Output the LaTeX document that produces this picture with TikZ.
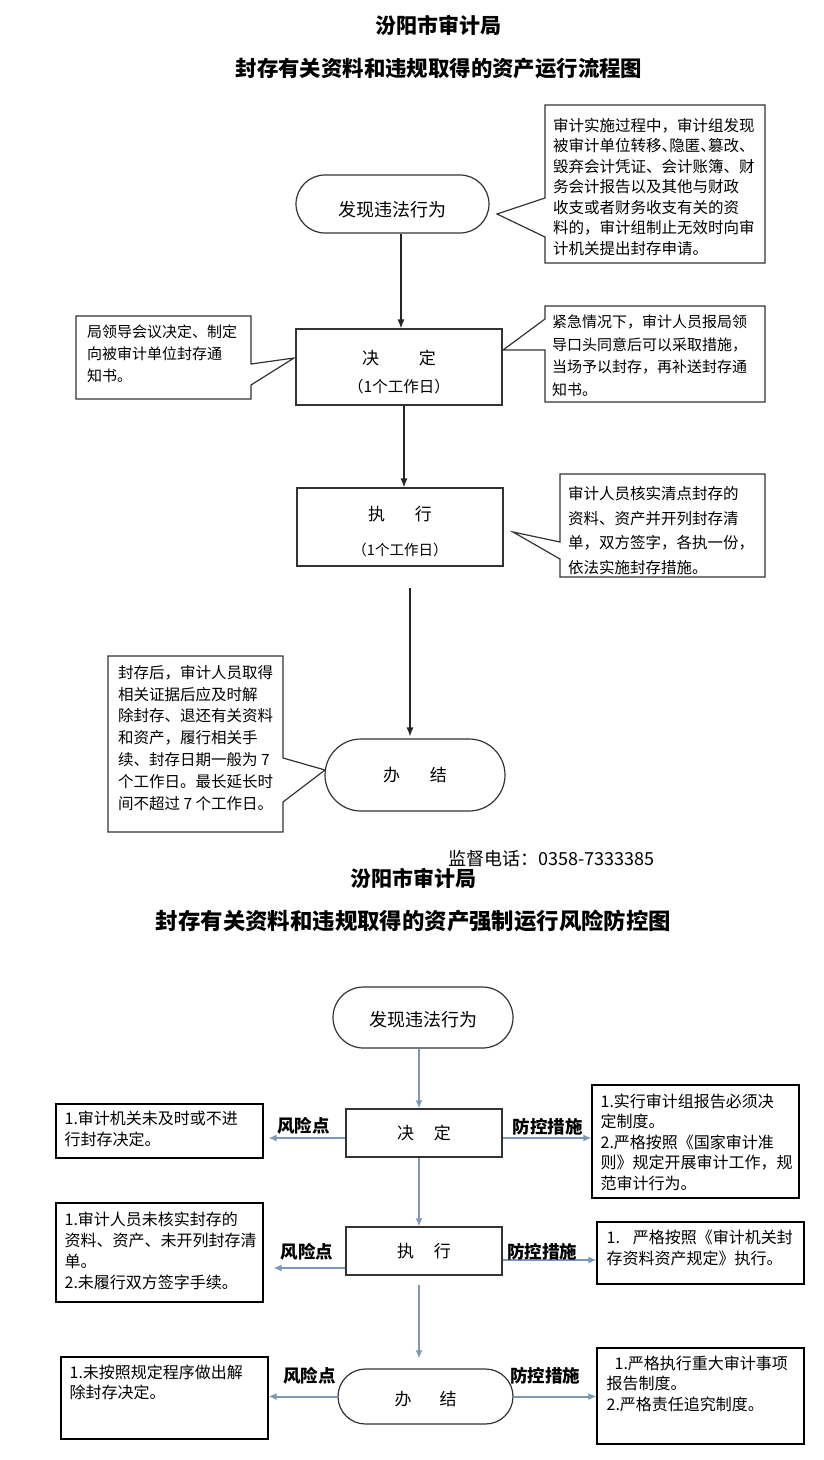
\documentclass[tikz,border=0pt]{standalone}
\usepackage{fontspec}
\setmainfont{Noto Sans CJK SC}
\usetikzlibrary{shapes.misc,arrows.meta,calc}
\definecolor{arrowblue}{RGB}{124,152,185}
\definecolor{edge}{RGB}{51,51,51}
\newcommand\hw[1]{\makebox[0.5em][l]{#1}}
\tikzset{
  pagetitle/.style={font=\bfseries\fontsize{21}{25}\selectfont, inner sep=0},
  term/.style={draw=edge, line width=1.2pt, rounded rectangle, inner sep=0, font=\fontsize{18}{22}\selectfont},
  stepbox/.style={draw=edge, line width=1.2pt, rectangle, inner sep=0, align=center},
  calloutline/.style={draw=edge, line width=1.2pt, fill=white},
  ctext/.style={anchor=north west, inner sep=0, align=left},
  arr/.style={draw=black!85, line width=1.2pt, -{Latex[length=9pt,width=7pt]}},
  barr/.style={draw=arrowblue, line width=2pt, -{Latex[length=8pt,width=7pt]}},
  riskbox/.style={draw=black, line width=1.1pt, rectangle, inner sep=0},
  tag/.style={font=\bfseries\fontsize{17.5}{20}\selectfont, inner sep=0},
}
\begin{document}
\begin{tikzpicture}[x=1pt,y=-1pt]
\fill[white] (0,0) rectangle (823,1460);
\useasboundingbox (0,0) rectangle (823,1460);

% ---------- titles (upper chart)
\node[pagetitle] (t1) at (438.5,25) {汾阳市审计局};
\node[pagetitle, font=\bfseries\fontsize{21.4}{25}\selectfont] (t2) at (439,68) {封存有关资料和违规取得的资产运行流程图};

% ---------- upper flow
\node[term, minimum width=193pt, minimum height=58pt] (s1) at (392.5,204) {\rule{0pt}{27pt}发现违法行为};
\node[stepbox, minimum width=206pt, minimum height=76pt, font=\fontsize{17}{28.5}\selectfont] (d1) at (399,367)
  {\rule{0pt}{24pt}决\hspace{40pt}定\\{\fontsize{15.5}{28.5}\selectfont（1个工作日）}};
\node[stepbox, minimum width=206pt, minimum height=78pt, font=\fontsize{17}{35}\selectfont] (e1) at (400,527)
  {\rule{0pt}{24pt}执\hspace{30pt}行\\{\fontsize{14.5}{35}\selectfont（1个工作日）}};
\node[term, minimum width=180pt, minimum height=72pt, font=\fontsize{17}{20}\selectfont] (b1) at (415,775)
  {办\hspace{30pt}结\hspace{28pt}};

\coordinate (xa) at (401,0);
\coordinate (xb) at (404,0);
\coordinate (xc) at (410,0);
\draw[arr] (s1.south -| xa) -- (d1.north -| xa);
\draw[arr] (d1.south -| xb) -- (e1.north -| xb);
\draw[arr, shorten <=21pt, shorten >=2pt] (e1.south -| xc) -- (b1.north -| xc);

% callouts
\draw[calloutline] (545,105) -- (765,105) -- (765,263) -- (545,263) -- (545,237) -- (497,214) -- (545,198) -- cycle;
\node[ctext, font=\fontsize{15.5}{20.5}\selectfont] (c1) at (553,118)
  {审计实施过程中，审计组发现\\被审计单位转移\hw{、}隐匿\hw{、}篡改\hw{、}\\毁弃会计凭证、会计账簿、财\\务会计报告以及其他与财政\\收支或者财务收支有关的资\\料的，审计组制止无效时向审\\计机关提出封存申请。};

\draw[calloutline] (76,316) -- (251,316) -- (251,364) -- (294,358) -- (251,385) -- (251,399) -- (76,399) -- cycle;
\node[ctext, font=\fontsize{15}{22}\selectfont] (c2) at (87,324.7)
  {局领导会议决定、制定\\向被审计单位封存通\\知书。};

\draw[calloutline] (545,306) -- (765,306) -- (765,402) -- (545,402) -- (545,350) -- (503,350) -- (545,319) -- cycle;
\node[ctext, font=\fontsize{15}{22.6}\selectfont] (c3) at (552,314.8)
  {紧急情况下，审计人员报局领\\导口头同意后可以采取措施，\\当场予以封存，再补送封存通\\知书。};

\draw[calloutline] (560,474) -- (765,474) -- (765,577) -- (560,577) -- (560,559) -- (513,532) -- (560,542) -- cycle;
\node[ctext, font=\fontsize{15.5}{24.7}\selectfont] (c4) at (568,486)
  {审计人员核实清点封存的\\资料、资产并开列封存清\\单，双方签字，各执一份，\\依法实施封存措施。};

\draw[calloutline] (108,656) -- (283,656) -- (283,758) -- (325,770) -- (283,802) -- (283,832) -- (108,832) -- cycle;
\node[ctext, font=\fontsize{15.5}{21.8}\selectfont] (c5) at (118,665)
  {封存后，审计人员取得\\相关证据后应及时解\\除封存、退还有关资料\\和资产，履行相关手\\续、封存日期一般为 7\\个工作日。最长延长时\\间不超过 7 个工作日。};

% ---------- phone & titles (lower chart)
\node[inner sep=0, anchor=west, font=\fontsize{18}{20}\selectfont] (ph) at (448,859) {监督电话：0358-7333385};
\node[pagetitle] (t3) at (413.5,878) {汾阳市审计局};
\node[pagetitle, font=\bfseries\fontsize{22.4}{26}\selectfont] (t4) at (413.5,921) {封存有关资料和违规取得的资产强制运行风险防控图};

% ---------- lower flow
\node[term, minimum width=180pt, minimum height=61pt] (s2) at (423,1017.5) {\rule{0pt}{20pt}发现违法行为};
\node[stepbox, minimum width=156pt, minimum height=48pt, font=\fontsize{17}{20}\selectfont] (d2) at (424,1133) {决\hspace{20pt}定};
\node[stepbox, minimum width=156pt, minimum height=48pt, font=\fontsize{17}{20}\selectfont] (e2) at (424,1251) {执\hspace{20pt}行};
\node[term, minimum width=175pt, minimum height=55pt, font=\fontsize{17}{20}\selectfont] (b2) at (425.5,1396.5) {\rule{0pt}{20pt}办\hspace{28pt}结};

\coordinate (xd) at (419,0);
\draw[barr] (s2.south -| xd) -- (d2.north -| xd);
\draw[barr] (d2.south -| xd) -- (e2.north -| xd);
\draw[barr, shorten <=9pt, shorten >=10pt] (e2.south -| xd) -- (b2.north -| xd);

% risk boxes (left)
\node[riskbox, minimum width=207pt, minimum height=54pt] (r1) at (159.5,1131) {};
\node[ctext, font=\fontsize{16}{21}\selectfont] (r1t) at ([xshift=9pt,yshift=-7pt]r1.north west)
  {1.审计机关未及时或不进\\行封存决定。};
\node[riskbox, minimum width=207pt, minimum height=99pt] (r2) at (159.5,1252.5) {};
\node[ctext, font=\fontsize{16}{21}\selectfont] (r2t) at ([xshift=9pt,yshift=-9pt]r2.north west)
  {1.审计人员未核实封存的\\资料、资产、未开列封存清\\单。\\2.未履行双方签字手续。};
\node[riskbox, minimum width=207pt, minimum height=82pt] (r3) at (164.5,1398) {};
\node[ctext, font=\fontsize{16}{20.5}\selectfont] (r3t) at ([xshift=9pt,yshift=-8pt]r3.north west)
  {1.未按照规定程序做出解\\除封存决定。};

% measure boxes (right)
\node[riskbox, minimum width=207pt, minimum height=113pt] (m1) at (695.5,1141.5) {};
\node[ctext, font=\fontsize{16}{20.5}\selectfont] (m1t) at ([xshift=9pt,yshift=-9pt]m1.north west)
  {1.实行审计组报告必须决\\定制度。\\2.严格按照《国家审计准\\则》规定开展审计工作，规\\范审计行为。};
\node[riskbox, minimum width=207pt, minimum height=62pt] (m2) at (700.5,1253) {};
\node[ctext, font=\fontsize{16}{21}\selectfont] (m2t) at ([xshift=10pt,yshift=-8pt]m2.north west)
  {1.\hspace{0.8em}严格按照《审计机关封\\存资料资产规定》执行。};
\node[riskbox, minimum width=207pt, minimum height=96pt] (m3) at (700.5,1396) {};
\node[ctext, font=\fontsize{16}{20.5}\selectfont] (m3t) at ([xshift=10pt,yshift=-8pt]m3.north west)
  {\hspace*{0.5em}1.严格执行重大审计事项\\报告制度。\\2.严格责任追究制度。};

% horizontal arrows
\coordinate (a1) at ([yshift=-5pt]d2.west);
\draw[barr, shorten >=5pt] (a1) -- (r1.east |- a1);
\coordinate (a2) at ([yshift=-5pt]d2.east);
\draw[barr] (a2) -- (m1.west |- a2);
\coordinate (a3) at ([yshift=-17pt]e2.west);
\draw[barr, shorten >=10pt] (a3) -- (r2.east |- a3);
\coordinate (a4) at ([yshift=-9pt]e2.east);
\draw[barr] (a4) -- (m2.west |- a4);
\draw[barr] (b2.west) -- (r3.east |- b2.west);
\draw[barr] (b2.east) -- (m3.west |- b2.east);

% labels
\node[tag] (k1) at (303.5,1126) {风险点};
\node[tag] (k2) at (307,1252) {风险点};
\node[tag] (k3) at (309.5,1376) {风险点};
\node[tag] (p1) at (547.5,1127) {防控措施};
\node[tag] (p2) at (542,1252) {防控措施};
\node[tag] (p3) at (545,1376) {防控措施};
\end{tikzpicture}
\end{document}
